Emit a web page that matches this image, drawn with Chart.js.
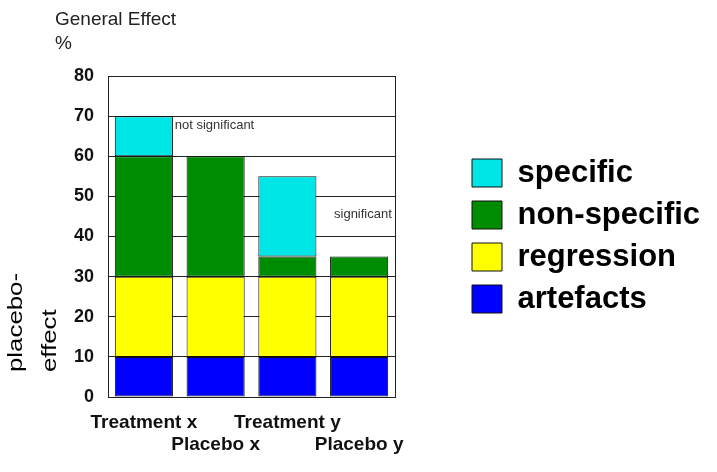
<!DOCTYPE html>
<html>
<head>
<meta charset="utf-8">
<script src="https://cdn.jsdelivr.net/npm/chart.js@4/dist/chart.umd.min.js"></script>
<style>
  html, body { margin: 0; padding: 0; background: #fff; }
  #wrap { width: 717px; height: 472px; }
</style>
</head>
<body>
<div id="wrap"><canvas id="chart"></canvas></div>
<script>
const categories = ["Treatment x", "Placebo x", "Treatment y", "Placebo y"];
const artefacts = [10, 10, 10, 10];
const regression = [20, 20, 20, 20];
const nonSpecific = [30, 30, 5, 5];
const specific = [10, 0, 20, 0];
const yTicks = [0, 10, 20, 30, 40, 50, 60, 70, 80];

const FONT = "'Liberation Sans', Arial, Helvetica, sans-serif";

// the layout caps a side legend at a fraction of the width; let it be as wide as its text,
// and centre its items on the whole canvas height rather than on the plot
const legendFix = {
  id: "legendFix",
  beforeLayout(chart) {
    const lg = chart.legend;
    if (lg && !lg._patched) {
      const fit = lg.fit;
      lg.fit = function () { fit.call(this); this.width = 250; };
      const draw = lg.draw;
      lg.draw = function () {
        const t = this.top, b = this.bottom;
        this.top = 0;
        this.bottom = chart.height;
        draw.call(this);
        this.top = t;
        this.bottom = b;
      };
      lg._patched = true;
    }
  }
};

// free text: top label, rotated axis title, the two notes
const textPlugin = {
  id: "texts",
  afterDraw(chart) {
    const c = chart.ctx;
    const x = chart.scales.x, y = chart.scales.y;
    c.save();
    c.fillStyle = "#222";
    c.textBaseline = "alphabetic";
    c.textAlign = "left";
    c.font = "19px " + FONT;
    c.fillText("General Effect", 55, 25);
    c.fillText("%", 55, 49);

    c.fillStyle = "#333";
    c.font = "13px " + FONT;
    c.textBaseline = "middle";
    c.fillText("not significant", x.getPixelForValue(0.43), y.getPixelForValue(67.6));
    c.fillText("significant", x.getPixelForValue(2.65), y.getPixelForValue(45.4));

    c.fillStyle = "#000";
    c.font = "21px " + FONT;
    c.textBaseline = "alphabetic";
    c.translate(0, chart.chartArea.bottom - 25);
    c.rotate(-Math.PI / 2);
    c.scale(1.23, 1);
    c.fillText("placebo-", 0, 22);
    c.fillText("effect", 0, 56);
    c.restore();
  }
};

const seg = (label, data, color) => ({
  label: label,
  data: data,
  backgroundColor: color,
  borderColor: "#111",
  borderWidth: 1,
  borderSkipped: false,
  categoryPercentage: 1,
  barPercentage: 0.81
});

new Chart(document.getElementById("chart"), {
  type: "bar",
  data: {
    labels: categories,
    datasets: [
      seg("artefacts", artefacts, "#0000ff"),
      seg("regression", regression, "#ffff00"),
      seg("non-specific", nonSpecific, "#008c00"),
      seg("specific", specific, "#00e6e6")
    ]
  },
  options: {
    responsive: true,
    maintainAspectRatio: false,
    animation: false,
    layout: { padding: { top: 76, right: 6, bottom: 0, left: 0 } },
    plugins: {
      tooltip: { enabled: false },
      legend: {
        position: "right",
        reverse: true,
        labels: {
          boxWidth: 30,
          boxHeight: 28,
          padding: 11,
          color: "#000",
          font: { family: FONT, size: 31, weight: "bold" }
        }
      }
    },
    scales: {
      x: {
        stacked: true,
        grid: { display: false, drawTicks: false },
        border: { display: true, color: "#222", width: 1 },
        ticks: {
          color: "#111",
          padding: 15,
          maxRotation: 0,
          autoSkip: false,
          font: { family: FONT, size: 19, weight: "bold", lineHeight: 1.16 },
          callback: (v, i) => i % 2 === 0 ? categories[i] : ["", categories[i]]
        },
        afterFit: s => { s.height = 75; }
      },
      y: {
        stacked: true,
        min: 0,
        max: 80,
        afterBuildTicks: s => { s.ticks = yTicks.map(v => ({ value: v })); },
        grid: { color: "#222", lineWidth: 1, drawTicks: false },
        border: { display: true, color: "#222", width: 1 },
        ticks: {
          color: "#111",
          padding: 14,
          font: { family: FONT, size: 18, weight: "bold" }
        },
        afterFit: s => { s.width = 108; }
      },
      y2: {
        position: "right",
        grid: { display: false, drawTicks: false },
        border: { display: true, color: "#222", width: 1 },
        ticks: { display: false },
        afterFit: s => { s.width = 66; }
      }
    }
  },
  plugins: [legendFix, textPlugin]
});
</script>
</body>
</html>
